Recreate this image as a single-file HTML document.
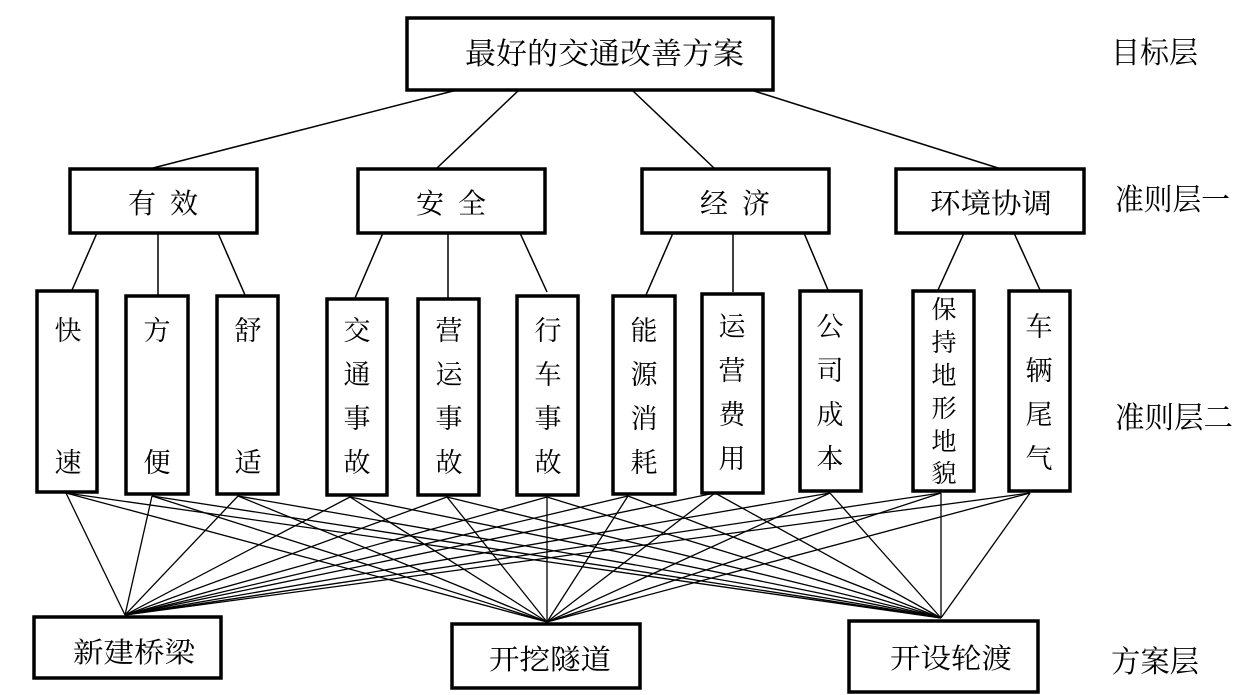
<!DOCTYPE html>
<html><head><meta charset="utf-8"><style>
html,body{margin:0;padding:0;background:#fff;}
svg{display:block}
text{font-family:"Liberation Serif","Noto Serif CJK SC",serif;fill:#000;}
</style></head><body>
<svg width="1238" height="695" viewBox="0 0 1238 695" xmlns="http://www.w3.org/2000/svg">
<g stroke="#000" stroke-width="1.5" fill="none">
<!-- top to level1 -->
<line x1="457" y1="90" x2="153" y2="168"/>
<line x1="519" y1="90" x2="437" y2="168"/>
<line x1="632" y1="90" x2="714" y2="168"/>
<line x1="751" y1="90" x2="998" y2="168"/>
<!-- level1 to level2 -->
<line x1="97" y1="233" x2="72" y2="290"/>
<line x1="158" y1="233" x2="158" y2="295"/>
<line x1="218" y1="233" x2="245" y2="295"/>
<line x1="383" y1="233" x2="355" y2="298"/>
<line x1="448" y1="233" x2="448" y2="298"/>
<line x1="520" y1="233" x2="547" y2="292"/>
<line x1="673" y1="233" x2="646" y2="295"/>
<line x1="733" y1="233" x2="733" y2="292"/>
<line x1="804" y1="233" x2="828" y2="290"/>
<line x1="964" y1="233" x2="938" y2="290"/>
<line x1="1014" y1="233" x2="1040" y2="290"/>
</g>
<g stroke="#000" stroke-width="1.3" fill="none" id="web">
<!-- to 新建桥梁 (125,615) -->
<line x1="66" y1="493" x2="125" y2="615"/><line x1="152" y1="496" x2="125" y2="615"/><line x1="238" y1="496" x2="125" y2="615"/><line x1="350" y1="497" x2="125" y2="615"/><line x1="447" y1="497" x2="125" y2="615"/><line x1="547" y1="497" x2="125" y2="615"/><line x1="628" y1="496" x2="125" y2="615"/><line x1="715" y1="493" x2="125" y2="615"/><line x1="830" y1="493" x2="125" y2="615"/><line x1="941" y1="493" x2="125" y2="615"/><line x1="1030" y1="493" x2="125" y2="615"/>
<!-- to 开挖隧道 (547,622) -->
<line x1="66" y1="493" x2="547" y2="622"/><line x1="152" y1="496" x2="547" y2="622"/><line x1="238" y1="496" x2="547" y2="622"/><line x1="350" y1="497" x2="547" y2="622"/><line x1="447" y1="497" x2="547" y2="622"/><line x1="547" y1="497" x2="547" y2="622"/><line x1="628" y1="496" x2="547" y2="622"/><line x1="715" y1="493" x2="547" y2="622"/><line x1="830" y1="493" x2="547" y2="622"/><line x1="941" y1="493" x2="547" y2="622"/><line x1="1030" y1="493" x2="547" y2="622"/>
<!-- to 开设轮渡 (941,618) -->
<line x1="66" y1="493" x2="941" y2="618"/><line x1="152" y1="496" x2="941" y2="618"/><line x1="238" y1="496" x2="941" y2="618"/><line x1="350" y1="497" x2="941" y2="618"/><line x1="447" y1="497" x2="941" y2="618"/><line x1="547" y1="497" x2="941" y2="618"/><line x1="628" y1="496" x2="941" y2="618"/><line x1="715" y1="493" x2="941" y2="618"/><line x1="830" y1="493" x2="941" y2="618"/><line x1="941" y1="493" x2="941" y2="618"/><line x1="1030" y1="493" x2="941" y2="618"/>
</g>
<g stroke="#000" stroke-width="3.5" fill="#fff">
<rect x="407" y="18" width="366" height="72"/>
<rect x="70" y="169" width="187" height="64"/>
<rect x="358" y="169" width="187" height="64"/>
<rect x="642" y="169" width="187" height="64"/>
<rect x="896" y="169" width="188" height="64"/>
<rect x="37" y="291" width="60" height="201"/>
<rect x="126" y="296" width="62" height="198"/>
<rect x="217" y="296" width="61" height="198"/>
<rect x="327" y="299" width="60" height="196"/>
<rect x="418" y="299" width="61" height="196"/>
<rect x="517" y="296" width="61" height="199"/>
<rect x="613" y="296" width="62" height="198"/>
<rect x="702" y="294" width="61" height="199"/>
<rect x="800" y="291" width="61" height="200"/>
<rect x="913" y="291" width="61" height="200"/>
<rect x="1009" y="291" width="61" height="200"/>
<rect x="34" y="617" width="187" height="61"/>
<rect x="452" y="624" width="188" height="64"/>
<rect x="849" y="621" width="189" height="71"/>
</g>
<g font-size="30">
<text x="465" y="64" textLength="279" lengthAdjust="spacingAndGlyphs">最好的交通改善方案</text>
<text x="1111" y="63" textLength="87" lengthAdjust="spacingAndGlyphs">目标层</text>
<text x="1115" y="210" textLength="115" lengthAdjust="spacingAndGlyphs">准则层一</text>
<text x="1115" y="428" textLength="118" lengthAdjust="spacingAndGlyphs">准则层二</text>
<text x="1111" y="672" textLength="88" lengthAdjust="spacingAndGlyphs">方案层</text>
</g>
<g font-size="28" text-anchor="middle">
<text x="163" y="213" xml:space="preserve">有  效</text>
<text x="451" y="213" xml:space="preserve">安  全</text>
<text x="735" y="213" xml:space="preserve">经  济</text>
<text x="991" y="213" textLength="122" lengthAdjust="spacingAndGlyphs">环境协调</text>
<text x="134" y="662" textLength="122" lengthAdjust="spacingAndGlyphs">新建桥梁</text>
<text x="550" y="669" textLength="122" lengthAdjust="spacingAndGlyphs">开挖隧道</text>
<text x="951" y="668" textLength="122" lengthAdjust="spacingAndGlyphs">开设轮渡</text>
</g>
<g font-size="27" text-anchor="middle">
<text x="68" y="340">快</text><text x="68" y="472">速</text>
<text x="157" y="340">方</text><text x="157" y="472">便</text>
<text x="248" y="340">舒</text><text x="248" y="472">适</text>
<text x="357" y="340">交</text><text x="357" y="384">通</text><text x="357" y="428">事</text><text x="357" y="472">故</text>
<text x="449" y="340">营</text><text x="449" y="384">运</text><text x="449" y="428">事</text><text x="449" y="472">故</text>
<text x="548" y="340">行</text><text x="548" y="384">车</text><text x="548" y="428">事</text><text x="548" y="472">故</text>
<text x="644" y="340">能</text><text x="644" y="384">源</text><text x="644" y="428">消</text><text x="644" y="472">耗</text>
<text x="732" y="336">运</text><text x="732" y="380">营</text><text x="732" y="424">费</text><text x="732" y="468">用</text>
<text x="830" y="336">公</text><text x="830" y="380">司</text><text x="830" y="424">成</text><text x="830" y="468">本</text>
<text x="1039" y="336">车</text><text x="1039" y="380">辆</text><text x="1039" y="424">尾</text><text x="1039" y="468">气</text>
</g>
<g font-size="25" text-anchor="middle">
<text x="944" y="318">保</text><text x="944" y="351">持</text><text x="944" y="384">地</text><text x="944" y="417">形</text><text x="944" y="450">地</text><text x="944" y="482">貌</text>
</g>
</svg>
</body></html>
